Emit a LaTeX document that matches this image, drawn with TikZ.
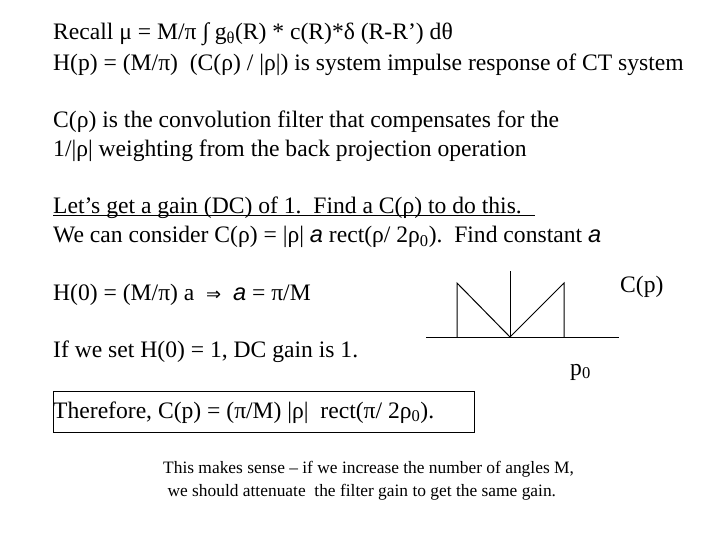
\documentclass[tikz,border=0pt]{standalone}
\usepackage{fontspec}
\setmainfont{Liberation Serif}
\setsansfont{Liberation Sans}
\newfontfamily\symfont{DejaVu Sans}
\begin{document}
\begin{tikzpicture}[x=1pt,y=-1pt,
  txt/.style={anchor=base west,inner sep=0pt,font=\fontsize{23.6}{26}\selectfont},
  small/.style={anchor=base west,inner sep=0pt,font=\fontsize{17.4}{20}\selectfont},
  ln/.style={line width=1pt}]
\useasboundingbox (0,0) rectangle (720,540);
\node[txt] (l1) at (53,40) {Recall μ = M/π ∫ g\textsubscript{θ}(R) * c(R)*δ (R-R') dθ};
\node[txt] (l2) at (53,71) {H(p) = (M/π)\ \ (C(ρ) / |ρ|) is system impulse response of CT system};
\node[txt] (l3) at (53,128) {C(ρ) is the convolution filter that compensates for the};
\node[txt] (l4) at (53,157) {1/|ρ| weighting from the back projection operation};
\node[txt] (l5) at (53,214) {Let’s get a gain (DC) of 1.\ \ Find a C(ρ) to do this.};
\draw[ln] (53,216) -- (535,216);
\node[txt] (l6) at (53,243) {We can consider C(ρ) = |ρ| {\sffamily\itshape a} rect(ρ/ 2ρ\textsubscript{0}).\ \ Find constant {\sffamily\itshape a}};
\node[txt] (l7) at (53,300) {H(0) = (M/π) a\ \ {\symfont\fontsize{18}{20}\selectfont ⇒}\ \ {\sffamily\itshape a} = π/M};
\node[txt] (l8) at (53,357) {If we set H(0) = 1, DC gain is 1.};
\node[txt] (l9) at (53,418) {Therefore, C(p) = (π/M) |ρ|\ \ rect(π/ 2ρ\textsubscript{0}).};
\draw[ln] (53,391) rectangle (474,432);
\node[small] (b1) at (163,473) {This makes sense – if we increase the number of angles M,};
\node[small] (b2) at (163,496) {\ we should attenuate\ \ the filter gain to get the same gain.};
\node[txt] (cp) at (620,292) {C(p)};
\node[txt] (p0) at (570,375) {p\textsubscript{0}};
\coordinate (a1) at (426,337); \coordinate (a2) at (619,337);
\coordinate (o) at (510,337); \coordinate (ot) at (510,271);
\coordinate (lb) at (457,337); \coordinate (lt) at (457,283);
\coordinate (rb) at (564,337); \coordinate (rt) at (564,283);
\draw[ln] (a1) -- (a2);
\draw[ln] (o) -- (ot);
\draw[ln] (lb) -- (lt) -- (o) -- (rt) -- (rb);
\end{tikzpicture}
\end{document}
